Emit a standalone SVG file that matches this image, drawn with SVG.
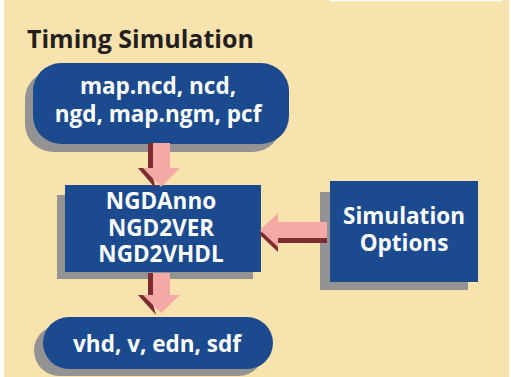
<svg xmlns="http://www.w3.org/2000/svg" width="511" height="377" viewBox="0 0 511 377">
<style>
.bg{fill:#F8E2AD}
.box{fill:#1C4A8E}
.sh{fill:#939393}
.ap{fill:#F4A9A6}
.ad{fill:#7E2C31}
.t{font-family:"Open Sans","Liberation Sans",sans-serif;font-weight:bold;font-size:22.5px;fill:#FFFFFF;text-anchor:middle}
.title{font-family:"Open Sans","Liberation Sans",sans-serif;font-weight:bold;font-size:25px;fill:#231F20}
</style>
<rect x="0" y="0" width="511" height="377" fill="#FFFFFF"/>
<rect class="bg" x="4" y="0" width="505" height="377"/>
<rect x="330" y="0" width="172" height="1.2" fill="#FFFFFF"/>
<text class="title" x="27" y="48">Timing Simulation</text>
<g id="node-inputs">
<rect class="sh" x="25" y="71" width="256" height="81" rx="28"/>
<rect class="box" x="33" y="63" width="256" height="81" rx="28"/>
<text class="t" x="158" y="94">map.ncd, ncd,</text>
<text class="t" x="158" y="122">ngd, map.ngm, pcf</text>
</g>
<g id="node-tools">
<rect class="sh" x="57" y="195" width="196" height="84"/>
<rect class="box" x="65" y="185" width="196" height="87"/>
<text class="t" x="161" y="209">NGDAnno</text>
<text class="t" x="161" y="236">NGD2VER</text>
<text class="t" x="161" y="262">NGD2VHDL</text>
</g>
<g id="node-options">
<rect class="sh" x="320" y="192" width="148" height="98"/>
<rect class="box" x="330" y="181" width="148" height="101"/>
<text class="t" x="404" y="224">Simulation</text>
<text class="t" x="404" y="251">Options</text>
</g>
<g id="node-outputs">
<rect class="sh" x="34" y="325" width="230" height="51" rx="25.5"/>
<rect class="box" x="43" y="317" width="230" height="52" rx="26"/>
<text class="t" x="157" y="352">vhd, v, edn, sdf</text>
</g>
<g id="connectors">
<g id="arrow-inputs-tools">
<polygon class="ad" points="148,143 153,143 153,168 138,168 156,189 151,170 148,170"/>
<polygon class="ap" points="153,143 170,143 170,168 180,168 161,187 143,168 153,168"/>
</g>
<g id="arrow-tools-outputs">
<polygon class="ad" points="148,273 153,273 153,295 138,295 156,315 151,297 148,297"/>
<polygon class="ap" points="153,273 170,273 170,295 180,295 161,313 143,295 153,295"/>
</g>
<g id="arrow-options-tools">
<polygon class="ad" points="327,238 327,243 278,243 278,252 259,234 262,232 278,238"/>
<polygon class="ap" points="327,222 327,238 278,238 278,247 260,230 278,213 278,222"/>
</g>
</g>
</svg>
